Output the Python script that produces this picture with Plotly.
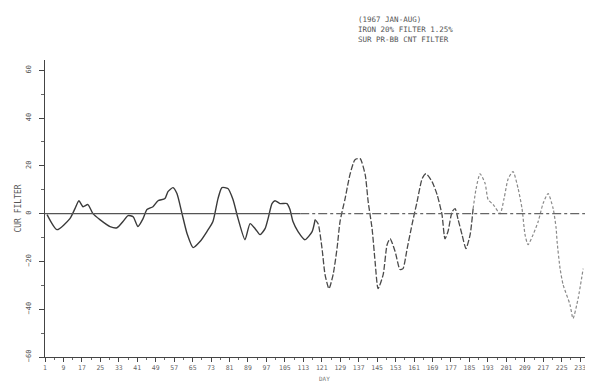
import plotly.graph_objects as go

# ---- data ----
days = [1.9, 6.2, 11.8, 14.0, 15.7, 17.5, 19.6, 21.8, 24.8, 29.2, 32.2, 34.8, 37.0, 39.2,
        41.3, 43.5, 45.2, 47.8, 50.0, 53.0, 54.3, 56.5, 58.2, 60.4, 62.6, 65.2, 68.2, 71.2,
        73.8, 76.0, 77.7, 80.3, 82.5, 84.7, 87.7, 89.9, 92.1, 94.2, 96.4, 97.7, 99.4, 100.7,
        102.9, 105.9, 107.2, 108.5, 110.7, 113.7, 116.8, 118.1, 119.4, 121.1, 122.4, 124.1,
        125.9, 127.6, 128.9, 131.1, 133.2, 135.4, 137.6, 139.8, 141.1, 142.8, 144.1, 145.4,
        147.6, 149.3, 150.6, 152.8, 154.9, 156.2, 158.0, 160.1, 162.3, 164.5, 166.2, 168.8,
        171.0, 173.1, 174.4, 175.7, 177.5, 178.8, 180.1, 181.8, 183.5, 185.3, 186.6, 187.9,
        189.6, 191.8, 193.1, 195.3, 198.3, 200.0, 201.8, 203.9, 206.1, 207.8, 209.1, 210.4,
        212.6, 214.8, 216.9, 219.1, 221.3, 222.6, 223.0, 224.3, 225.6, 228.6, 229.9, 232.1,
        234.3]
cur_filter = [-0.4, -6.7, -2.1, 2.1, 5.4, 2.9, 3.8, 0.0, -2.5, -5.4, -5.9, -3.3, -0.8, -1.3,
              -5.4, -2.1, 1.7, 2.9, 5.4, 6.3, 9.2, 10.9, 8.4, 0.0, -8.4, -14.2, -11.7, -7.5,
              -3.3, 6.3, 10.9, 10.5, 5.9, -2.1, -10.9, -4.2, -6.3, -8.8, -6.3, -2.1, 4.2, 5.4,
              4.2, 4.2, 1.7, -3.3, -7.5, -10.9, -7.5, -2.5, -4.2, -14.6, -25.5, -31.4,
              -25.5, -14.6, -3.3, 6.3, 16.3, 22.6, 23.0, 16.3, 5.0, -6.3, -20.1, -31.4,
              -25.5, -13.0, -10.5, -15.9, -23.4, -23.0, -14.6, -4.6, 5.0, 14.6, 16.7, 13.4,
              7.9, -0.4, -10.5, -7.5, 0.8, 2.1, -2.5, -8.8, -14.6, -8.8, 2.1, 10.5,
              16.7, 12.6, 5.9, 3.8, 0.0, 6.3, 14.6, 17.6, 10.5, 2.1, -8.8, -13.0,
              -8.8, -3.3, 4.2, 8.4, 2.1, -6.3, -11.7, -23.0, -29.7, -38.1, -43.9, -35.6,
              -23.0]

x_tick_vals = [1, 9, 17, 25, 33, 41, 49, 57, 65, 73, 81, 89, 97, 105, 113, 121, 129, 137,
               145, 153, 161, 169, 177, 185, 193, 201, 209, 217, 225, 233]
x_tick_text = ["1", "9", "17", "25", "33", "41", "49", "57", "65", "73", "81", "89", "97",
               "105", "113", "121", "129", "137", "145", "153", "161", "169", "177", "185",
               "193", "201", "209", "217", "225", "233"]
y_tick_vals = [-60, -40, -20, 0, 20, 40, 60]
title_lines = ["(1967 JAN-AUG)", "IRON 20% FILTER 1.25%", "SUR PR-BB CNT FILTER"]

FONT = "DejaVu Sans Mono"

fig = go.Figure()

# split the curve into the solid, dashed and faint dotted parts seen in the scan
cut1 = next(i for i, d in enumerate(days) if d >= 118)
cut2 = next(i for i, d in enumerate(days) if d >= 186)
segments = [
    (0, cut1 + 1, dict(color="#3a3a3a", width=1.4, dash="solid")),
    (cut1, cut2 + 1, dict(color="#4a4a4a", width=1.3, dash="6px,2px")),
    (cut2, len(days), dict(color="#8a8a8a", width=1.2, dash="3px,2px")),
]
for a, b, ln in segments:
    fig.add_trace(go.Scatter(x=days[a:b], y=cur_filter[a:b], mode="lines",
                             line=dict(shape="spline", smoothing=0.6, **ln),
                             showlegend=False, hoverinfo="skip"))

# zero reference line: solid on the left, dash-dot on the right
fig.add_shape(type="line", xref="paper", yref="y", x0=0, x1=0.47, y0=0, y1=0,
              line=dict(color="#555", width=1.2))
fig.add_shape(type="line", xref="paper", yref="y", x0=0.47, x1=1, y0=0, y1=0,
              line=dict(color="#666", width=1.2, dash="dashdot"))

fig.add_annotation(xref="paper", yref="paper", x=0.573, y=1.0, xanchor="left", yanchor="bottom",
                   yshift=14, text="<br>".join(title_lines), showarrow=False, align="left",
                   font=dict(family=FONT, size=7.5, color="#555"))

fig.add_annotation(xref="paper", yref="paper", x=0.515, y=0, xanchor="center", yanchor="bottom",
                   yshift=-27, text="DAY", showarrow=False,
                   font=dict(family=FONT, size=6, color="#777"))

# the page body has an 8px margin, so the figure is sized to fit the window
fig.update_layout(
    width=585, height=376,
    margin=dict(l=37, r=5, t=52, b=27, autoexpand=False),
    paper_bgcolor="white", plot_bgcolor="white",
    font=dict(family=FONT, size=7, color="#555"),
    xaxis=dict(range=[1, 236.4], showgrid=False, zeroline=False, automargin=False,
               showline=True, linecolor="#444", linewidth=1.2,
               tickmode="array", tickvals=x_tick_vals, ticktext=x_tick_text,
               ticks="outside", ticklen=4, tickcolor="#444", tickangle=0,
               tickfont=dict(size=6.5, color="#666"),
               minor=dict(ticks="outside", ticklen=2, dtick=4, tick0=1, tickcolor="#666")),
    yaxis=dict(range=[-60, 64.3], showgrid=False, zeroline=False, automargin=False,
               showline=True, linecolor="#444", linewidth=1.2,
               tickmode="array", tickvals=y_tick_vals,
               ticks="outside", ticklen=5, tickcolor="#444", tickangle=-90,
               ticklabelstandoff=5,
               tickfont=dict(size=7, color="#555"),
               minor=dict(ticks="outside", ticklen=3, dtick=10, tickcolor="#666"),
               title=dict(text="CUR FILTER", font=dict(size=8, color="#555"), standoff=2)),
)

fig.write_html("out.html")
